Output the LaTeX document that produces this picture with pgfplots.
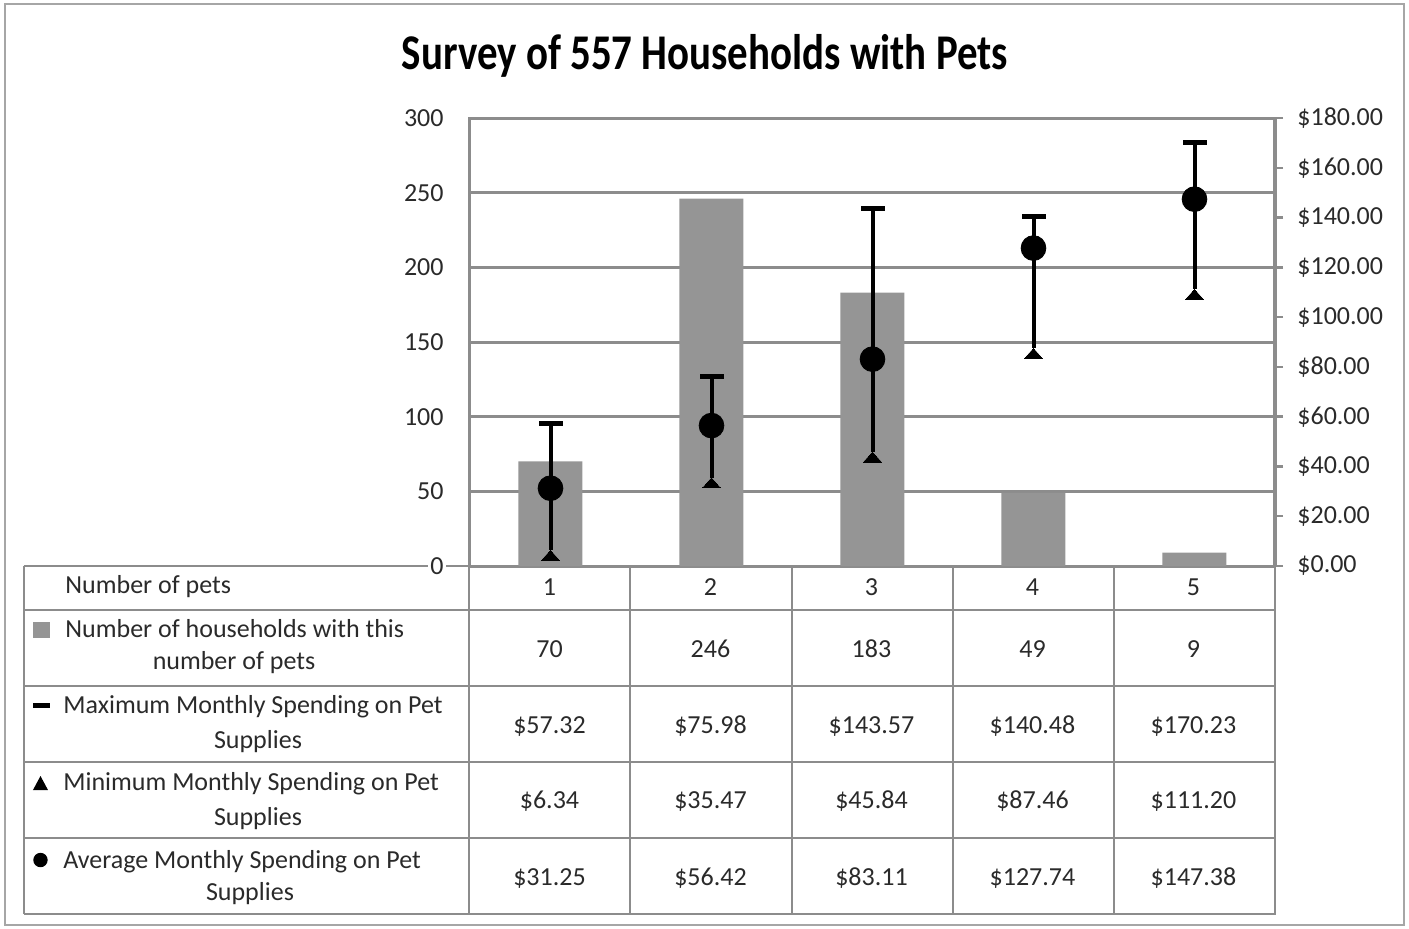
\documentclass[border=0pt]{standalone}
\usepackage{pgfplots}
\pgfplotsset{compat=1.18}
\usepackage{pgfplotstable}
\usepackage{fontspec}
\setmainfont{Carlito}
\usepackage{graphicx}

\definecolor{bargray}{HTML}{959595}
\definecolor{gridgray}{HTML}{8C8C8C}
\definecolor{txt}{HTML}{2A2A2A}

\pgfplotstableread{
x hh max min avg
1 70 57.32 6.34 31.25
2 246 75.98 35.47 56.42
3 183 143.57 45.84 83.11
4 49 140.48 87.46 127.74
5 9 170.23 111.20 147.38
}\pets

\begin{document}
\begin{tikzpicture}
\path[use as bounding box] (-235pt,-181pt) rectangle (469.5pt,283pt);
\begin{scope}[x=0.5pt,y=-0.5pt,shift={(-235pt,283pt)}]
\draw[gray!70, line width=1pt] (5,4) rectangle (1404,925);
% table lines
\foreach \yy in {566,610,686,762,838,914} \draw[gridgray, line width=1.4pt] (24,\yy) -- (1276,\yy);
\foreach \xx in {24,469,630,792,953,1114,1275} \draw[gridgray, line width=1.4pt] (\xx,566) -- (\xx,914);
% title
\node[anchor=base, inner sep=0pt, font=\bfseries\fontsize{25}{28}\selectfont] at (705,70) {\resizebox{303pt}{\height}{Survey of 557 Households with Pets}};
\begin{scope}[every node/.style={inner sep=0pt, text=txt, font=\fontsize{13}{15}\selectfont}]
\node[anchor=base west] at (65,593) {Number of pets};
\node[anchor=base west] at (65,637) {Number of households with this};
\node[anchor=base] at (234,669) {number of pets};
\node[anchor=base west] at (63,713) {Maximum Monthly Spending on Pet};
\node[anchor=base] at (258,748) {Supplies};
\node[anchor=base west] at (63,790) {Minimum Monthly Spending on Pet};
\node[anchor=base] at (258,825) {Supplies};
\node[anchor=base west] at (63,868) {Average Monthly Spending on Pet};
\node[anchor=base] at (250,900) {Supplies};
\foreach \v [count=\i] in {1,2,3,4,5} \node[anchor=base] at ({549.5+161*(\i-1)},595) {\v};
\foreach \v [count=\i] in {70,246,183,49,9} \node[anchor=base] at ({549.5+161*(\i-1)},657) {\v};
\foreach \v [count=\i] in {\$57.32,\$75.98,\$143.57,\$140.48,\$170.23} \node[anchor=base] at ({549.5+161*(\i-1)},733) {\v};
\foreach \v [count=\i] in {\$6.34,\$35.47,\$45.84,\$87.46,\$111.20} \node[anchor=base] at ({549.5+161*(\i-1)},808) {\v};
\foreach \v [count=\i] in {\$31.25,\$56.42,\$83.11,\$127.74,\$147.38} \node[anchor=base] at ({549.5+161*(\i-1)},885) {\v};
\end{scope}
% legend keys
\fill[bargray] (33,622) rectangle (50,638);
\fill[black] (33,703) rectangle (50,708);
\fill[black] (33,790) -- (48,790) -- (40.5,776) -- cycle;
\fill[black] (40.5,860) circle[radius=3.6pt];
\end{scope}

\begin{axis}[
  at={(0pt,0pt)}, anchor=south west, scale only axis,
  width=402.5pt, height=224pt,
  xmin=0.5, xmax=5.5, ymin=0, ymax=300,
  xtick=\empty, ytick={0,50,...,300},
  ymajorgrids, grid style={gridgray, line width=1.5pt},
  axis line style={gridgray, line width=1.5pt},
  major tick length=0pt,
  tick label style={font=\fontsize{13}{15}\selectfont, text=txt},
  yticklabel style={anchor=east, inner sep=1pt, fill=white, xshift=-12pt},
  /pgf/number format/assume math mode=true,
]
\addplot[ybar, bar width=32pt, fill=bargray, draw=none] table[x=x,y=hh]{\pets};
\end{axis}

\begin{axis}[
  at={(0pt,0pt)}, anchor=south west, scale only axis,
  width=402.5pt, height=224pt,
  xmin=0.5, xmax=5.5, ymin=0, ymax=180,
  axis x line=none, axis y line*=right,
  ytick={0,20,...,180},
  tick align=outside, major tick length=4pt,
  every tick/.style={gridgray, line width=1.2pt},
  axis line style={gridgray, line width=1.5pt},
  tick label style={font=\fontsize{13}{15}\selectfont, text=txt},
  /pgf/number format/assume math mode=true,
  yticklabel={\$\pgfmathprintnumber[fixed,fixed zerofill,precision=2]{\tick}},
  yticklabel style={anchor=west, inner sep=0pt, xshift=7pt},
]
\addplot[only marks, mark=*, mark size=6.2pt, black,
  error bars/.cd, y dir=both, y explicit, error mark=none,
  error bar style={black, solid, line width=2pt}]
  table[x=x, y=avg, y error plus expr=\thisrow{max}-\thisrow{avg}, y error minus expr=\thisrow{avg}-\thisrow{min}]{\pets};
\addplot[only marks, mark=-, mark size=6pt, black, mark options={line width=2.5pt}] table[x=x,y=max]{\pets};
\addplot[only marks, mark=triangle*, mark size=5.2pt, black, mark options={yshift=-3.4pt, yscale=0.65, fill=black, draw=black, line width=0pt}] table[x=x,y=min]{\pets};
\end{axis}
\end{tikzpicture}
\end{document}
